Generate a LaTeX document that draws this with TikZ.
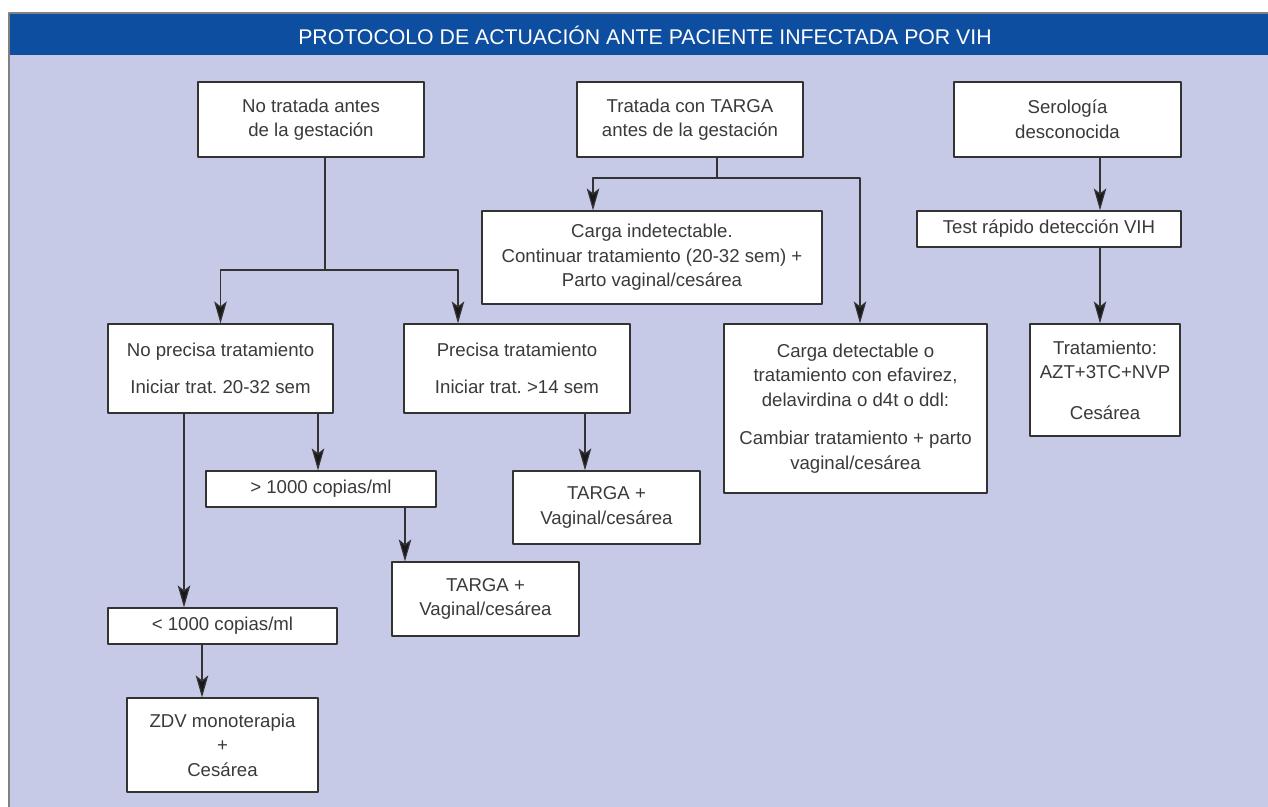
\documentclass[tikz,border=0pt]{standalone}
\usepackage{fontspec}
\setmainfont{Liberation Sans}
\usetikzlibrary{arrows.meta}
\definecolor{fondo}{RGB}{199,202,230}
\definecolor{azul}{RGB}{13,78,160}
\definecolor{trazo}{RGB}{51,51,51}
\definecolor{texto}{RGB}{58,58,58}
\frenchspacing
\begin{document}
\begin{tikzpicture}[x=0.02cm, y=-0.02cm, line join=round,
	caja/.style={draw=trazo, line width=0.7pt, fill=white, align=center, inner sep=0pt, text=texto, font=\fontsize{10.6}{14}\selectfont},
	conector/.style={draw=trazo, line width=0.7pt},
	flecha/.style={conector, -{Stealth[length=4.4mm, width=2.5mm, inset=1mm, fill=black!90]}}]
			\useasboundingbox (0,0) rectangle (1268,806);
			\fill[fondo] (9,13) rectangle (1275,815);
			\fill[azul] (9,13) rectangle (1275,55);
			\draw[gray, line width=0.6pt] (1275,13) -- (9,13) -- (9,815);
			\node[text=white, font=\fontsize{12.1}{14}\selectfont] (titulo) at (645,35) {PROTOCOLO DE ACTUACIÓN ANTE PACIENTE INFECTADA POR VIH};
			% fila de arriba
			\node[caja, minimum width=4.52cm, minimum height=1.5cm] (notrat) at (311,119.5) {No tratada antes\\de la gestación};
			\node[caja, minimum width=4.52cm, minimum height=1.5cm] (trat) at (690,119.5) {Tratada con TARGA\\antes de la gestación};
			\node[caja, minimum width=4.54cm, minimum height=1.5cm] (sero) at (1067.5,119.5) {Serología\\desconocida};
			\node[caja, minimum width=6.8cm, minimum height=1.86cm] (indet) at (652,257.5) {Carga indetectable.\\Continuar tratamiento (20-32 sem) +\\Parto vaginal/cesárea};
			\node[caja, minimum width=5.28cm, minimum height=0.72cm] (test) at (1049,229) {Test rápido detección VIH};
			\node[caja, minimum width=4.5cm, minimum height=1.78cm] (noprec) at (220.5,368.5) {No precisa tratamiento\\[7pt]Iniciar trat. 20-32 sem};
			\node[caja, minimum width=4.52cm, minimum height=1.78cm] (prec) at (517,368.5) {Precisa tratamiento\\[7pt]Iniciar trat. >14 sem};
			\node[caja, minimum width=5.26cm, minimum height=3.38cm] (detect) at (855.5,408.5) {Carga detectable o\\tratamiento con efavirez,\\delavirdina o d4t o ddl:\\[8pt]Cambiar tratamiento + parto\\vaginal/cesárea};
			\node[caja, minimum width=3cm, minimum height=2.24cm] (azt) at (1105,380) {Tratamiento:\\AZT+3TC+NVP\\[9pt]Cesárea};
			% rama izquierda
			\node[caja, minimum width=4.6cm, minimum height=0.72cm] (mas) at (321,489) {> 1000 copias/ml};
			\node[caja, minimum width=3.74cm, minimum height=1.46cm] (targaA) at (606.5,507.5) {TARGA +\\Vaginal/cesárea};
			\node[caja, minimum width=3.74cm, minimum height=1.48cm] (targaB) at (485.5,599) {TARGA +\\Vaginal/cesárea};
			\node[caja, minimum width=4.58cm, minimum height=0.72cm] (menos) at (222.5,626) {< 1000 copias/ml};
			\node[caja, minimum width=3.82cm, minimum height=1.88cm] (zdv) at (222.5,745) {ZDV monoterapia\\+\\Cesárea};
			% conectores
			\coordinate (r1) at (325,270);
			\coordinate (r2) at (458,270);
			\coordinate (s1) at (717,178);
			\coordinate (s2) at (593,178);
			\coordinate (s3) at (860,178);
			\coordinate (t1) at (1100,0);
			\coordinate (u1) at (184,0);
			\coordinate (u2) at (318,0);
			\coordinate (u3) at (405,0);
			\coordinate (u4) at (585,0);
			\coordinate (u5) at (202,0);
			\draw[conector] (notrat.south -| r1) -- (r1);
			\draw[flecha] (r1) -| (noprec.north);
			\draw[flecha] (r1) -- (r2) -- (r2 |- prec.north);
			\draw[conector] (trat.south -| s1) -- (s1);
			\draw[flecha] (s1) -- (s2) -- (s2 |- indet.north);
			\draw[flecha] (s1) -- (s3) -- (s3 |- detect.north);
			\draw[flecha] (sero.south -| t1) -- (test.north -| t1);
			\draw[flecha] (test.south -| t1) -- (azt.north -| t1);
			\draw[flecha] (noprec.south -| u1) -- (menos.north -| u1);
			\draw[flecha] (noprec.south -| u2) -- (mas.north -| u2);
			\draw[flecha] (mas.south -| u3) -- (targaB.north -| u3);
			\draw[flecha] (prec.south -| u4) -- (targaA.north -| u4);
			\draw[flecha] (menos.south -| u5) -- (zdv.north -| u5);
		\end{tikzpicture}
\end{document}
